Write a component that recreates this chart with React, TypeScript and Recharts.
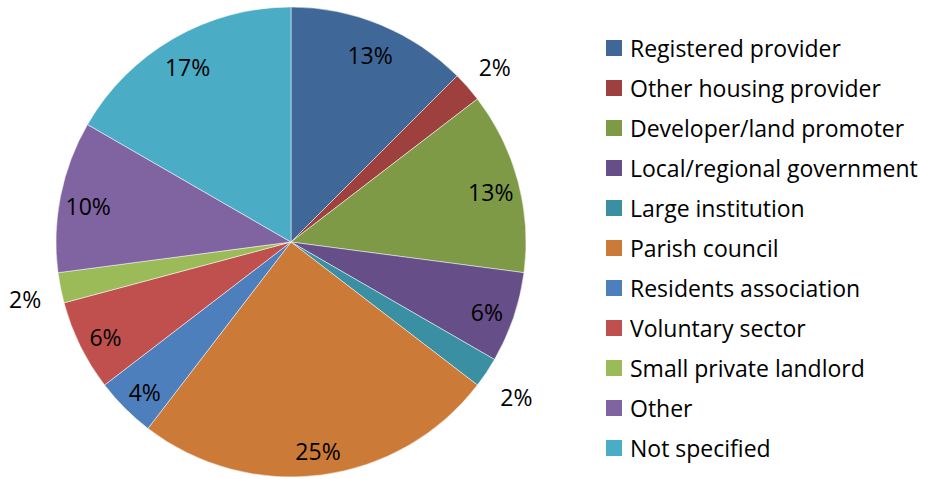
import React from 'react';
import { PieChart, Pie, Cell, Legend } from 'recharts';

const categories = [
  'Registered provider',
  'Other housing provider',
  'Developer/land promoter',
  'Local/regional government',
  'Large institution',
  'Parish council',
  'Residents association',
  'Voluntary sector',
  'Small private landlord',
  'Other',
  'Not specified',
];

// responses per category (48 total)
const counts = [6, 1, 6, 3, 1, 12, 2, 3, 1, 5, 8];

const colors = [
  '#3F6898', '#9D403E', '#7E9A47', '#664E88', '#3A8FA3', '#CC7A37',
  '#4D7FBC', '#C0504D', '#9BBB59', '#8064A2', '#4BACC6',
];

const data = categories.map((name, i) => ({ name, value: counts[i] }));

const FONT = '"Open Sans", sans-serif';
const RADIAN = Math.PI / 180;

const renderLabel = (props: any) => {
  const { cx, cy, midAngle, outerRadius, percent } = props;
  const small = percent < 0.03;
  const r = small ? outerRadius + 36 : outerRadius * 0.88;
  const x = cx + r * Math.cos(-midAngle * RADIAN);
  const y = cy + r * Math.sin(-midAngle * RADIAN) + 4;
  return (
    <text
      x={x}
      y={y}
      fill="#000"
      textAnchor="middle"
      dominantBaseline="central"
      fontSize={23}
      fontFamily={FONT}
    >
      {`${Math.round(percent * 100)}%`}
    </text>
  );
};

// legend keeps the data order (no sorting)
const renderLegend = () => (
  <div style={{ fontFamily: FONT, fontSize: 23, color: '#000' }}>
    {categories.map((name, i) => (
      <div key={name} style={{ display: 'flex', alignItems: 'center', height: 40 }}>
        <span style={{ width: 16, height: 16, background: colors[i], marginRight: 8, display: 'inline-block', flex: 'none' }} />
        <span style={{ whiteSpace: 'nowrap' }}>{name}</span>
      </div>
    ))}
  </div>
);

const App: React.FC = () => {
  return (
    <div style={{ position: 'absolute', left: 0, top: 0, background: '#fff' }}>
      <PieChart width={926} height={479} margin={{ top: 0, right: 0, bottom: 0, left: 0 }}>
        <Pie
          data={data}
          dataKey="value"
          nameKey="name"
          cx={291}
          cy={242}
          outerRadius={235}
          startAngle={90}
          endAngle={-270}
          label={renderLabel}
          labelLine={false}
          stroke="#fff"
          strokeWidth={0.5}
          isAnimationActive={false}
        >
          {data.map((d, i) => (
            <Cell key={d.name} fill={colors[i]} />
          ))}
        </Pie>
        <Legend
          content={renderLegend}
          layout="vertical"
          wrapperStyle={{ left: 606, top: 28, width: 320 }}
        />
      </PieChart>
    </div>
  );
};

export default App;
